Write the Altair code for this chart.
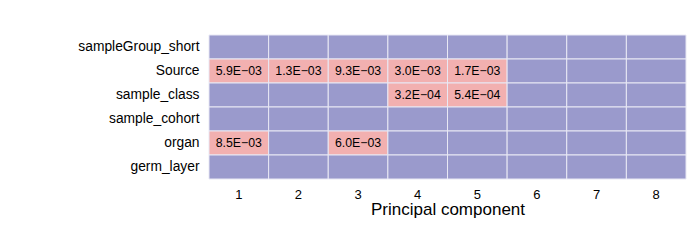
import altair as alt
import pandas as pd

rows = ["sampleGroup_short", "Source", "sample_class", "sample_cohort", "organ", "germ_layer"]
pcs = [1, 2, 3, 4, 5, 6, 7, 8]
# p-values shown only where significant; None = not significant
pvals = {
    "sampleGroup_short": [None, None, None, None, None, None, None, None],
    "Source": ["5.9E\u221203", "1.3E\u221203", "9.3E\u221203", "3.0E\u221203", "1.7E\u221203", None, None, None],
    "sample_class": [None, None, None, "3.2E\u221204", "5.4E\u221204", None, None, None],
    "sample_cohort": [None, None, None, None, None, None, None, None],
    "organ": ["8.5E\u221203", None, "6.0E\u221203", None, None, None, None, None],
    "germ_layer": [None, None, None, None, None, None, None, None],
}

records = []
for r in rows:
    for pc, v in zip(pcs, pvals[r]):
        records.append({"row": r, "pc": str(pc), "label": v if v else "", "sig": "yes" if v else "no"})
df = pd.DataFrame(records)

base = alt.Chart(df).encode(
    x=alt.X("pc:O", sort=[str(p) for p in pcs], title="Principal component",
            axis=alt.Axis(labelAngle=0, ticks=False, domain=False, labelPadding=9,
                          labelFontSize=13, titleFontSize=17, titleFontWeight="normal",
                          titlePadding=0, labelFont="Liberation Sans", titleFont="Liberation Sans",
                          labelColor="black", titleColor="black")),
    y=alt.Y("row:N", sort=rows, title=None,
            axis=alt.Axis(ticks=False, domain=False, labelPadding=10, labelFontSize=13.8,
                          labelFont="Liberation Sans", labelColor="black")),
)

rect = base.mark_rect(stroke="#e8e8f4", strokeWidth=1).encode(
    color=alt.Color("sig:N", scale=alt.Scale(domain=["no", "yes"], range=["#9a9acc", "#f2b0b0"]), legend=None)
)
text = base.mark_text(fontSize=12.3, font="Liberation Sans", color="black").encode(text="label:N")

chart = (rect + text).properties(
    width=477, height=144,
    padding={"left": 209, "top": 35, "right": 10, "bottom": 71},
    autosize=alt.AutoSizeParams(type="none"),
).configure_view(stroke=None).configure_scale(bandPaddingInner=0, bandPaddingOuter=0)

chart.save("out.html", embed_options={"renderer": "svg", "actions": False})
